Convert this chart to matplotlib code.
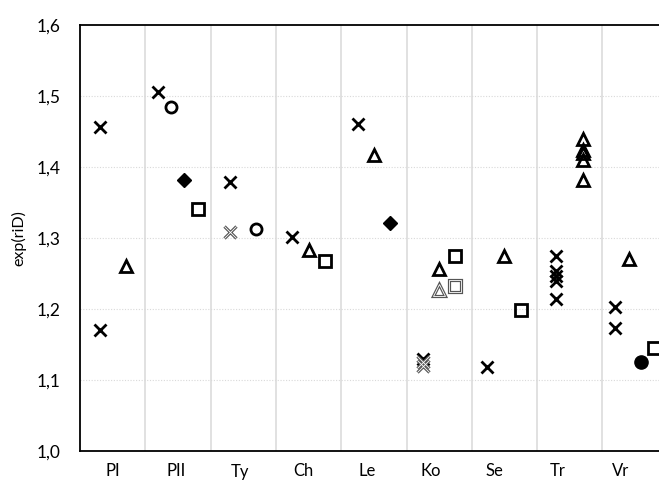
import matplotlib
matplotlib.use("Agg")
import matplotlib.pyplot as plt

plt.rcParams['font.family'] = ['Lato', 'DejaVu Sans']

categories = ["PI", "PII", "Ty", "Ch", "Le", "Ko", "Se", "Tr", "Vr"]
y_ticks = [1.0, 1.1, 1.2, 1.3, 1.4, 1.5, 1.6]
y_ticklabels = ["1,0", "1,1", "1,2", "1,3", "1,4", "1,5", "1,6"]

# black crosses
cross_x = [0.30, 0.30, 1.20, 2.30, 3.25, 4.25, 5.25, 6.24,
           7.29, 7.29, 7.29, 7.29, 7.29, 8.19, 8.19]
cross_y = [1.456, 1.171, 1.506, 1.379, 1.301, 1.461, 1.130, 1.119,
           1.274, 1.254, 1.247, 1.239, 1.214, 1.203, 1.173]
# gray (hollow) crosses
gcross_x = [2.30, 5.25, 5.25]
gcross_y = [1.309, 1.125, 1.120]
# black open triangles
tri_x = [0.70, 3.50, 4.50, 5.50, 6.49, 7.70, 7.70, 7.70, 7.70, 7.70, 8.40]
tri_y = [1.260, 1.283, 1.417, 1.256, 1.275, 1.440, 1.424, 1.420, 1.410, 1.382, 1.270]
# gray triangle
gtri_x = [5.50]
gtri_y = [1.227]
# open circles
circ_x = [1.39, 2.70]
circ_y = [1.485, 1.313]
# filled circle
fcirc_x = [8.59]
fcirc_y = [1.125]
# filled diamonds
dia_x = [1.60, 4.75]
dia_y = [1.382, 1.321]
# open squares
sq_x = [1.80, 3.75, 5.74, 6.75, 8.79]
sq_y = [1.341, 1.268, 1.275, 1.199, 1.145]
# gray square
gsq_x = [5.74]
gsq_y = [1.233]

W, H = 659, 482
fig = plt.figure(figsize=(W / 100, H / 100), dpi=100)
ax_left, ax_right, ax_top, ax_bottom = 80, 667.7, 25, 451
ax = fig.add_axes([ax_left / W, 1 - ax_bottom / H,
                   (ax_right - ax_left) / W, (ax_bottom - ax_top) / H])
ax.set_xlim(0, len(categories))
ax.set_ylim(1.0, 1.6)

# grid
for i in range(1, len(categories)):
    ax.axvline(i, color='#d9d9d9', lw=1.1, zorder=0)
for yv in y_ticks[1:-1]:
    ax.axhline(yv, color='#d9d9d9', lw=0.8, ls=(0, (1, 1.5)), zorder=0)

ax.set_yticks(y_ticks)
ax.set_yticklabels(y_ticklabels, fontsize=12.5)
label_pos = [(113 - ax_left) / 65.3 + i * (63.5 / 65.3) for i in range(len(categories))]
ax.set_xticks(label_pos)
ax.set_xticklabels(categories, fontsize=12)
ax.tick_params(axis='both', length=0)
ax.tick_params(axis='y', pad=14)
ax.tick_params(axis='x', pad=9)
ax.set_ylabel("exp(riD)", fontsize=11.5, labelpad=7)

for s in ax.spines.values():
    s.set_color('black')
    s.set_linewidth(1.3)

kw = dict(ls='none', clip_on=False, zorder=3)
# crosses
ax.plot(cross_x, cross_y, marker='x', ms=9, mew=2.0, color='black', **kw)
ax.plot(gcross_x, gcross_y, marker='x', ms=9, mew=2.3, color='#555555', **kw)
ax.plot(gcross_x, gcross_y, marker='x', ms=8.5, mew=0.6, color='white', **kw)
# triangles
ax.plot(tri_x, tri_y, marker='^', ms=8.5, mew=2.0, mfc='none', mec='black', **kw)
ax.plot(gtri_x, gtri_y, marker='^', ms=8.5, mew=2.3, mfc='none', mec='#555555', **kw)
ax.plot(gtri_x, gtri_y, marker='^', ms=8.5, mew=0.6, mfc='none', mec='white', **kw)
# circles
ax.plot(circ_x, circ_y, marker='o', ms=8, mew=2.0, mfc='none', mec='black', **kw)
ax.plot(fcirc_x, fcirc_y, marker='o', ms=9.5, mew=1, mfc='black', mec='black', **kw)
# diamonds
ax.plot(dia_x, dia_y, marker='D', ms=7, mew=1, mfc='black', mec='black', **kw)
# squares
ax.plot(sq_x, sq_y, marker='s', ms=8, mew=2.0, mfc='none', mec='black', **kw)
ax.plot(gsq_x, gsq_y, marker='s', ms=8, mew=2.3, mfc='none', mec='#555555', **kw)
ax.plot(gsq_x, gsq_y, marker='s', ms=8, mew=0.6, mfc='none', mec='white', **kw)

fig.savefig("out.png", dpi=100)
